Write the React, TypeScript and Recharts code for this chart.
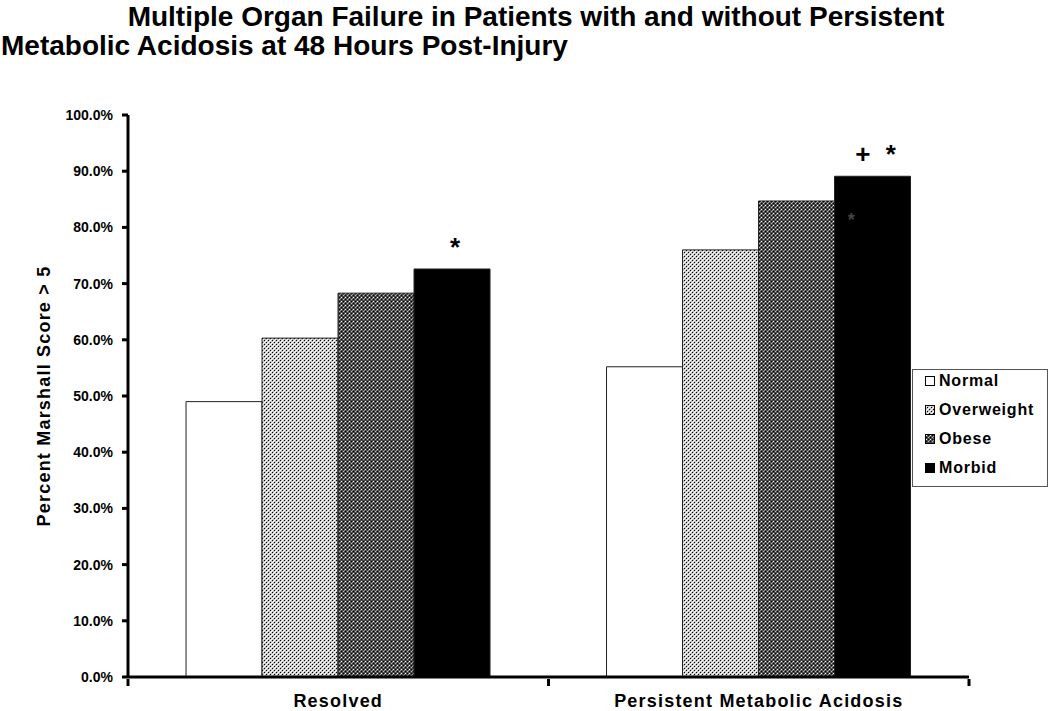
import React from "react"
import { BarChart, Bar, XAxis, YAxis, LabelList, Label } from "recharts"

const categories = ["Resolved", "Persistent Metabolic Acidosis"]
const normal = [0.49, 0.552]
const overweight = [0.603, 0.76]
const obese = [0.683, 0.847]
const morbid = [0.726, 0.891]
const notes = ["*", "+ *"]
const innerNotes = ["", "*"]
const yTicks = [0, 0.1, 0.2, 0.3, 0.4, 0.5, 0.6, 0.7, 0.8, 0.9, 1]

const series = [
  { key: "normal", name: "Normal", fill: "#ffffff" },
  { key: "overweight", name: "Overweight", fill: "url(#patOver)" },
  { key: "obese", name: "Obese", fill: "url(#patObese)" },
  { key: "morbid", name: "Morbid", fill: "#000000" },
]

const data = categories.map((name, i) => ({
  name,
  normal: normal[i],
  overweight: overweight[i],
  obese: obese[i],
  morbid: morbid[i],
  note: notes[i],
  inner: innerNotes[i],
}))

const font = "'Liberation Sans', Arial, sans-serif"

// category label plus the boundary tick marks between categories
const CatTick = (props: any) => {
  const { x, y, payload, index, visibleTicksCount } = props
  const half = payload.offset || 0
  const last = index === (visibleTicksCount || categories.length) - 1
  return (
    <g>
      <line x1={x - half} x2={x - half} y1={y - 6} y2={y + 1} stroke="#000" strokeWidth={3} />
      {last && <line x1={x + half} x2={x + half} y1={y - 6} y2={y + 1} stroke="#000" strokeWidth={3} />}
      <text x={x} y={y + 22} textAnchor="middle" fontFamily={font} fontWeight={700} fontSize={18} letterSpacing={1.2} fill="#000">
        {payload.value}
      </text>
    </g>
  )
}

const InnerStar = (props: any) => {
  const { x, y, width, value } = props
  if (!value) return null
  return (
    <text x={x + width * 0.22} y={y + 50} textAnchor="middle" fontFamily={font} fontWeight={700} fontSize={18} fill="#444">
      {value}
    </text>
  )
}

const NoteLabel = (props: any) => {
  const { x, y, width, value } = props
  return (
    <text x={x + width / 2 + 5} y={y - 13} textAnchor="middle" fontFamily={font} fontWeight={900} fontSize={26} letterSpacing={4} fill="#000">
      {value}
    </text>
  )
}

function LegendBox() {
  return (
    <div
      style={{
        position: "absolute",
        left: 912,
        top: 369,
        width: 134,
        height: 116,
        border: "1px solid #555",
        background: "#fff",
        fontFamily: font,
        fontWeight: 700,
        fontSize: 16,
        letterSpacing: 0.8,
      }}
    >
      {series.map((s, i) => (
        <div key={s.key} style={{ position: "absolute", left: 12, top: 0 + i * 29, display: "flex", alignItems: "center", height: 22 }}>
          <svg width={10} height={10} style={{ marginRight: 4 }}>
            <rect x={0.5} y={0.5} width={9} height={9} fill={s.fill} stroke="#000" strokeWidth={1} />
          </svg>
          <span>{s.name}</span>
        </div>
      ))}
    </div>
  )
}

export default function App() {
  return (
    <div style={{ position: "absolute", left: 0, top: 0, width: 1050, height: 711, background: "#fff" }}>
      <div style={{ position: "absolute", left: 0, top: 1, width: 1072, textAlign: "center", fontFamily: font, fontWeight: 700, fontSize: 28, whiteSpace: "nowrap" }}>
        Multiple Organ Failure in Patients with and without Persistent
      </div>
      <div style={{ position: "absolute", left: 1, top: 30, fontFamily: font, fontWeight: 700, fontSize: 28, whiteSpace: "nowrap" }}>
        Metabolic Acidosis at 48 Hours Post-Injury
      </div>
      <div style={{ position: "absolute", left: 0, top: 0 }}>
        <BarChart width={1050} height={711} data={data} margin={{ top: 115, right: 81, left: 0, bottom: 0 }} barGap={0} barCategoryGap="13.8%">
          <defs>
            <pattern id="patOver" width={4} height={4} patternUnits="userSpaceOnUse">
              <rect width={4} height={4} fill="#c4c4c4" />
              <rect x={0} y={0} width={1} height={1} fill="#000" />
              <rect x={2} y={2} width={1} height={1} fill="#000" />
              <rect x={2} y={0} width={1} height={1} fill="#fff" />
              <rect x={0} y={2} width={1} height={1} fill="#fff" />
              <rect x={1} y={1} width={1} height={1} fill="#fff" />
              <rect x={3} y={3} width={1} height={1} fill="#fff" />
            </pattern>
            <pattern id="patObese" width={4} height={4} patternUnits="userSpaceOnUse">
              <rect width={4} height={4} fill="#4a4a4a" />
              <rect x={1} y={1} width={1} height={1} fill="#fff" />
              <rect x={3} y={3} width={1} height={1} fill="#bbb" />
              <rect x={3} y={1} width={1} height={1} fill="#000" />
              <rect x={1} y={3} width={1} height={1} fill="#000" />
              <rect x={0} y={2} width={1} height={1} fill="#999" />
            </pattern>
          </defs>
          <XAxis
            dataKey="name"
            height={34}
            axisLine={{ stroke: "#000", strokeWidth: 3 }}
            tickLine={false}
            interval={0}
            tick={<CatTick />}
          />
          <YAxis
            width={128}
            domain={[0, 1]}
            ticks={yTicks}
            interval={0}
            tickFormatter={(v: number) => (v * 100).toFixed(1) + "%"}
            axisLine={{ stroke: "#000", strokeWidth: 3 }}
            tickLine={{ stroke: "#000", strokeWidth: 3 }}
            tickSize={6}
            tickMargin={9}
            tick={{ fontFamily: font, fontWeight: 700, fontSize: 14, fill: "#000" }}
          >
            <Label
              value="Percent Marshall Score > 5"
              angle={-90}
              position="insideLeft"
              offset={44}
              style={{ textAnchor: "middle", fontFamily: font, fontWeight: 700, fontSize: 18, letterSpacing: 1.2, fill: "#000" }}
            />
          </YAxis>
          {series.map((s) => (
            <Bar key={s.key} dataKey={s.key} name={s.name} fill={s.fill} stroke="#222" strokeWidth={1} isAnimationActive={false}>
              {s.key === "morbid" && <LabelList dataKey="note" content={<NoteLabel />} />}
              {s.key === "morbid" && <LabelList dataKey="inner" content={<InnerStar />} />}
            </Bar>
          ))}
        </BarChart>
      </div>
      <LegendBox />
    </div>
  )
}
